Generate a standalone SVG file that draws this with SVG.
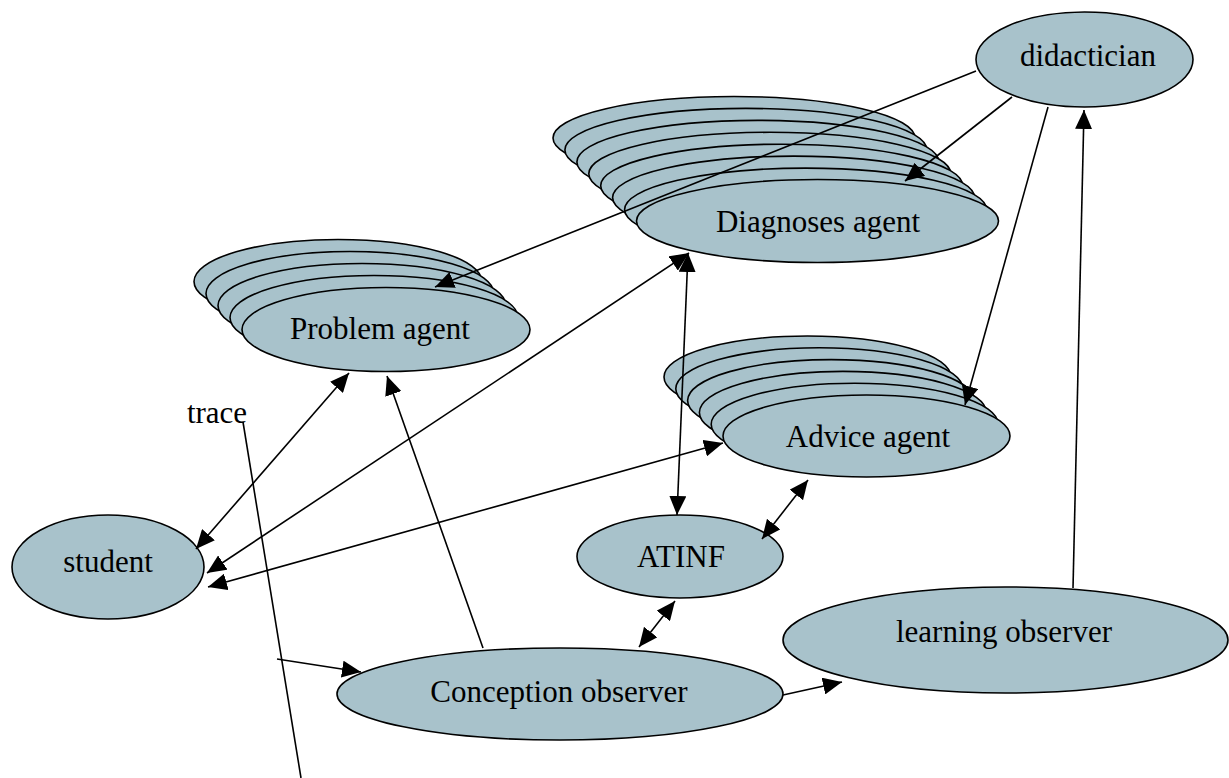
<svg xmlns="http://www.w3.org/2000/svg" width="1229" height="778" viewBox="0 0 1229 778">
<style>
.n{fill:#a8c2cb;stroke:#000;stroke-width:1.6}
.t{font-family:"Liberation Serif","Times New Roman",serif;font-size:31px;fill:#000;text-anchor:middle}
.c{stroke:#000;stroke-width:1.6;fill:none}
</style>
<defs>
<marker id="ah" markerUnits="userSpaceOnUse" markerWidth="20" markerHeight="17" refX="19" refY="8.5" orient="auto-start-reverse">
<path d="M0,0 L19,8.5 L0,17 z" fill="#000"/>
</marker>
</defs>
<rect width="1229" height="778" fill="#fff"/>
<g id="didactician">
<ellipse class="n" cx="1084.5" cy="59.5" rx="108.5" ry="47.5"/>
<text class="t" x="1088" y="66">didactician</text>
</g>
<g id="diagnoses-agent">
<ellipse class="n" cx="734" cy="138" rx="181" ry="41.5"/>
<ellipse class="n" cx="745.9" cy="149.9" rx="181" ry="41.5"/>
<ellipse class="n" cx="757.9" cy="161.9" rx="181" ry="41.5"/>
<ellipse class="n" cx="769.8" cy="173.8" rx="181" ry="41.5"/>
<ellipse class="n" cx="781.7" cy="185.7" rx="181" ry="41.5"/>
<ellipse class="n" cx="793.6" cy="197.6" rx="181" ry="41.5"/>
<ellipse class="n" cx="805.6" cy="209.6" rx="181" ry="41.5"/>
<ellipse class="n" cx="817.5" cy="221" rx="181" ry="41.5"/>
<text class="t" x="818" y="232">Diagnoses agent</text>
</g>
<g id="problem-agent">
<ellipse class="n" cx="338" cy="281.5" rx="144" ry="42"/>
<ellipse class="n" cx="350" cy="293.5" rx="144" ry="42"/>
<ellipse class="n" cx="362" cy="305.5" rx="144" ry="42"/>
<ellipse class="n" cx="374" cy="317.5" rx="144" ry="42"/>
<ellipse class="n" cx="386" cy="329.5" rx="144" ry="42"/>
<text class="t" x="380" y="339">Problem agent</text>
</g>
<g id="advice-agent">
<ellipse class="n" cx="807.5" cy="377" rx="143.5" ry="41"/>
<ellipse class="n" cx="819.3" cy="388.8" rx="143.5" ry="41"/>
<ellipse class="n" cx="831.1" cy="400.6" rx="143.5" ry="41"/>
<ellipse class="n" cx="842.9" cy="412.4" rx="143.5" ry="41"/>
<ellipse class="n" cx="854.7" cy="424.2" rx="143.5" ry="41"/>
<ellipse class="n" cx="866.5" cy="436" rx="143.5" ry="41"/>
<text class="t" x="868" y="447">Advice agent</text>
</g>
<g id="student">
<ellipse class="n" cx="108" cy="567" rx="96" ry="52"/>
<text class="t" x="108" y="572">student</text>
</g>
<g id="atinf">
<ellipse class="n" cx="680" cy="556.5" rx="103" ry="41.5"/>
<text class="t" x="681" y="567">ATINF</text>
</g>
<g id="learning-observer">
<ellipse class="n" cx="1005.5" cy="640" rx="222.5" ry="53"/>
<text class="t" x="1004" y="642">learning observer</text>
</g>
<g id="conception-observer">
<ellipse class="n" cx="560" cy="694" rx="223" ry="46"/>
<text class="t" x="559" y="702">Conception observer</text>
</g>
<g id="trace-label">
<text class="t" x="217" y="423">trace</text>
</g>
<g id="connectors">
<line class="c" x1="976" y1="71" x2="435" y2="287" marker-end="url(#ah)"/>
<line class="c" x1="1012" y1="97" x2="905" y2="181" marker-end="url(#ah)"/>
<line class="c" x1="1048" y1="107" x2="965" y2="405" marker-end="url(#ah)"/>
<line class="c" x1="1073" y1="588" x2="1084" y2="110" marker-end="url(#ah)"/>
<line class="c" x1="196" y1="549" x2="349" y2="373" marker-start="url(#ah)" marker-end="url(#ah)"/>
<line class="c" x1="207" y1="573" x2="689" y2="253" marker-start="url(#ah)" marker-end="url(#ah)"/>
<line class="c" x1="208" y1="587" x2="723" y2="443" marker-start="url(#ah)" marker-end="url(#ah)"/>
<line class="c" x1="688" y1="253" x2="677" y2="515" marker-start="url(#ah)" marker-end="url(#ah)"/>
<line class="c" x1="762" y1="539" x2="808" y2="480" marker-start="url(#ah)" marker-end="url(#ah)"/>
<line class="c" x1="675" y1="601" x2="639" y2="647" marker-start="url(#ah)" marker-end="url(#ah)"/>
<line class="c" x1="483" y1="648" x2="387" y2="376" marker-end="url(#ah)"/>
<line class="c" x1="783" y1="695" x2="842" y2="682" marker-end="url(#ah)"/>
<line class="c" x1="243" y1="422" x2="301" y2="778"/>
<line class="c" x1="277" y1="659" x2="361" y2="672" marker-end="url(#ah)"/>
</g>
</svg>
